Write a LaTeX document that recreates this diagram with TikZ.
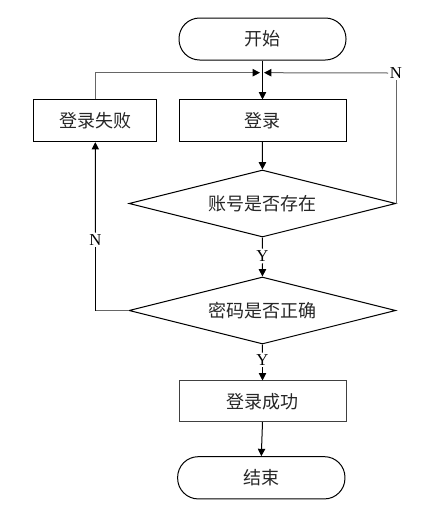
\documentclass[tikz,border=0pt]{standalone}
\usepackage{fontspec}
\setmainfont{Liberation Serif}
\newfontfamily\cjk{Noto Sans CJK SC}
\usetikzlibrary{shapes.geometric,arrows.meta}
\begin{document}
\begin{tikzpicture}[x=0.75pt,y=-0.75pt,
  line width=0.75pt,
  term/.style={draw,rectangle,rounded corners=15.5pt,minimum width=125.25pt,minimum height=31.5pt,inner sep=0pt,font=\cjk\fontsize{13.5pt}{15pt}\selectfont,text=black!85},
  proc/.style={draw,rectangle,minimum width=125.25pt,minimum height=31.25pt,inner sep=0pt,font=\cjk\fontsize{13.5pt}{15pt}\selectfont,text=black!85},
  decide/.style={draw,diamond,aspect=3.98,minimum width=200pt,minimum height=50.25pt,inner sep=0pt,font=\cjk\fontsize{13.5pt}{15pt}\selectfont,text=black!85},
  lab/.style={inner sep=1pt,font=\fontsize{12.5pt}{14pt}\selectfont},
  arr/.style={-{Triangle[length=5.5pt,width=5.5pt,color=black]}},
  loopline/.style={draw=black!60}
]
\useasboundingbox (0,0) rectangle (444,511);
\node[term] (start) at (262.5,39) {开始};
\node[proc] (login) at (262.5,120.8) {登录};
\node[proc,minimum width=92pt] (fail) at (95.3,120.8) {登录失败};
\node[decide] (d1) at (262.4,203.5) {账号是否存在};
\node[decide] (d2) at (262.4,310.5) {密码是否正确};
\node[proc,minimum height=30.5pt,draw=black!75] (succ) at (262.5,401.3) {登录成功};
\node[term,minimum width=125.5pt,minimum height=31.7pt] (end) at (261.3,477.8) {结束};
\node[lab] (y1) at (262.5,256) {Y};
\node[lab] (y2) at (262.5,360) {Y};
\node[lab] (nR) at (396,73) {N};
\node[lab] (nL) at (95.5,240) {N};
\coordinate (jl) at (260,72.7);
\coordinate (jr) at (264,72.7);
% main flow
\draw[arr] (start) -- (login);
\draw[arr] (login) -- (d1);
\draw (d1.south) -- (y1.north);
\draw[arr] (y1.south) -- (d2.north);
\draw (d2.south) -- (y2.north);
\draw[arr] (y2.south) -- (succ.north);
\draw[arr] (succ.south) -- (end.north);
% N from account check
\draw[loopline] (d1.east) -- (d1.east |- nR.south);
\draw[arr,loopline] (nR.west) -- (jr);
% N from password check
\draw[loopline] (d2.west) -- (d2.west -| nL.south);
\draw (d2.west -| nL.south) -- (nL.south);
\draw[arr] (nL.north) -- (fail.south);
% fail back to login
\draw[arr,loopline] (fail.north) |- (jl);
\end{tikzpicture}
\end{document}
